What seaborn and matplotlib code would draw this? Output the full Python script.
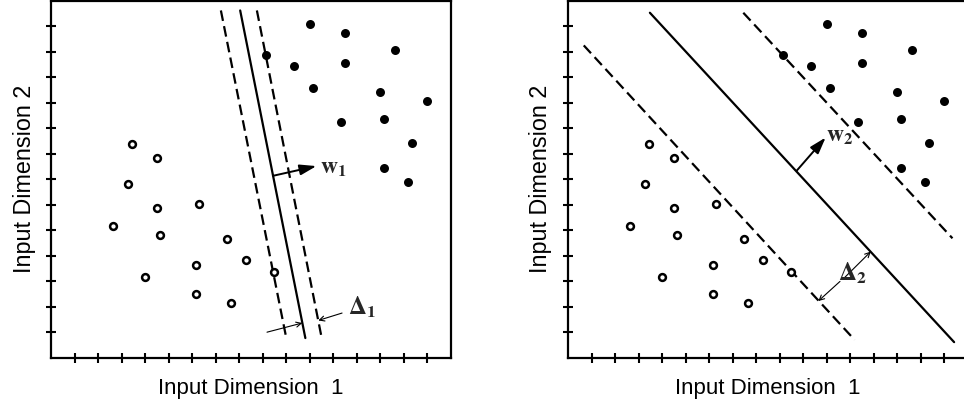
import matplotlib
matplotlib.use("Agg")
import matplotlib.pyplot as plt
import numpy as np
import pandas as pd
import seaborn as sns

# Class +1 (filled markers)
pos_x = [10.99, 12.51, 14.64, 9.14, 10.34, 12.51, 11.13, 13.97, 15.99, 12.33, 14.14, 15.35, 14.14, 15.18]
pos_y = [13.07, 12.72, 12.07, 11.88, 11.42, 11.56, 10.57, 10.43, 10.08, 9.22, 9.37, 8.42, 7.42, 6.87]

# Class -1 (open markers)
neg_x = [3.46, 4.50, 3.29, 4.50, 6.30, 2.65, 4.65, 7.49, 8.30, 6.16, 9.49, 4.00, 6.16, 7.66]
neg_y = [8.36, 7.81, 6.80, 5.85, 6.01, 5.16, 4.80, 4.65, 3.81, 3.65, 3.35, 3.16, 2.50, 2.15]

# Panel 1: nearly vertical separating hyperplane and its margins
p1_solid_x, p1_solid_y = [8.04, 10.81], [13.61, 0.77]
p1_lo_x, p1_lo_y = [7.22, 10.00], [13.61, 0.77]
p1_hi_x, p1_hi_y = [8.75, 11.52], [13.61, 0.70]

# Panel 2: diagonal separating hyperplane with a wide margin
p2_solid_x, p2_solid_y = [3.48, 16.41], [13.52, 0.61]
p2_lo_x, p2_lo_y = [0.67, 12.18], [12.24, 0.70]
p2_hi_x, p2_hi_y = [7.45, 16.34], [13.52, 4.68]

# Normal vectors (tail, head)
w1_tail, w1_head = (9.44, 7.13), (11.28, 7.51)
w2_tail, w2_head = (9.72, 7.33), (10.95, 8.63)

x_ticks = list(range(1, 17))
y_ticks = list(range(1, 14))

sns.set_theme(style="white")
plt.rcParams["font.family"] = ["Liberation Sans", "DejaVu Sans"]
plt.rcParams["mathtext.fontset"] = "stix"

W, H = 964, 408
fig = plt.figure(figsize=(W / 100, H / 100), dpi=100)
ax1 = fig.add_axes([51 / W, 50.3 / H, 400 / W, 357.2 / H])
ax2 = fig.add_axes([568 / W, 50.3 / H, 400 / W, 357.2 / H])

pos = pd.DataFrame({"x": pos_x, "y": pos_y})
neg = pd.DataFrame({"x": neg_x, "y": neg_y})

dash = (0, (4.8, 2.4))


def base(ax, ylab_x):
    sns.scatterplot(data=pos, x="x", y="y", ax=ax, s=42, color="black",
                    edgecolor="black", linewidth=0, zorder=3)
    sns.scatterplot(data=neg, x="x", y="y", ax=ax, s=24, facecolor="white",
                    edgecolor="black", linewidth=1.8, zorder=3)
    ax.set_xlim(0, 17)
    ax.set_ylim(0, 14)
    ax.set_xticks(x_ticks)
    ax.set_yticks(y_ticks)
    ax.tick_params(direction="inout", length=7.5, width=1.5, color="black",
                   labelbottom=False, labelleft=False, bottom=True, left=True)
    for sp in ax.spines.values():
        sp.set_linewidth(1.6)
        sp.set_color("black")
    ax.set_xlabel("Input Dimension  1", fontsize=16, color="black")
    ax.set_ylabel("Input Dimension 2", fontsize=16.8, color="black")
    ax.xaxis.set_label_coords(0.5, -0.058)
    ax.yaxis.set_label_coords(ylab_x, 0.5)
    ax.set_facecolor("white")


def thin_arrow(ax, start, end):
    ax.annotate("", xy=end, xytext=start,
                arrowprops=dict(arrowstyle="->", lw=0.8, color="black",
                                mutation_scale=9, shrinkA=0, shrinkB=0))


def bold_arrow(ax, start, end):
    ax.annotate("", xy=end, xytext=start,
                arrowprops=dict(arrowstyle="-|>,head_length=0.5,head_width=0.16",
                                lw=1.4, color="black",
                                mutation_scale=20, shrinkA=0, shrinkB=0))


# ---- panel 1 ----
base(ax1, -0.038)
ax1.plot(p1_solid_x, p1_solid_y, color="black", lw=1.6)
ax1.plot(p1_lo_x, p1_lo_y, color="black", lw=1.6, linestyle=dash)
ax1.plot(p1_hi_x, p1_hi_y, color="black", lw=1.6, linestyle=dash)
bold_arrow(ax1, w1_tail, w1_head)
ax1.text(11.43, 7.45, r"$\mathbf{w}_{\mathbf{1}}$", fontsize=17, ha="left", va="center")
thin_arrow(ax1, (9.18, 1.00), (10.68, 1.36))
thin_arrow(ax1, (12.37, 1.75), (11.36, 1.46))
ax1.text(12.62, 1.98, r"$\mathbf{\Delta}_{\mathbf{1}}$", fontsize=18, ha="left", va="center")

# ---- panel 2 ----
base(ax2, -0.040)
ax2.plot(p2_solid_x, p2_solid_y, color="black", lw=1.6)
ax2.plot(p2_lo_x, p2_lo_y, color="black", lw=1.6, linestyle=dash)
ax2.plot(p2_hi_x, p2_hi_y, color="black", lw=1.6, linestyle=dash)
bold_arrow(ax2, w2_tail, w2_head)
ax2.text(10.97, 8.70, r"$\mathbf{w}_{\mathbf{2}}$", fontsize=17, ha="left", va="center")
thin_arrow(ax2, (11.70, 3.09), (12.87, 4.16))
thin_arrow(ax2, (11.56, 2.99), (10.64, 2.22))
ax2.text(12.09, 3.32, r"$\mathbf{\Delta}_{\mathbf{2}}$", fontsize=18, ha="center", va="center")

fig.savefig("out.png", dpi=100, facecolor="white")
